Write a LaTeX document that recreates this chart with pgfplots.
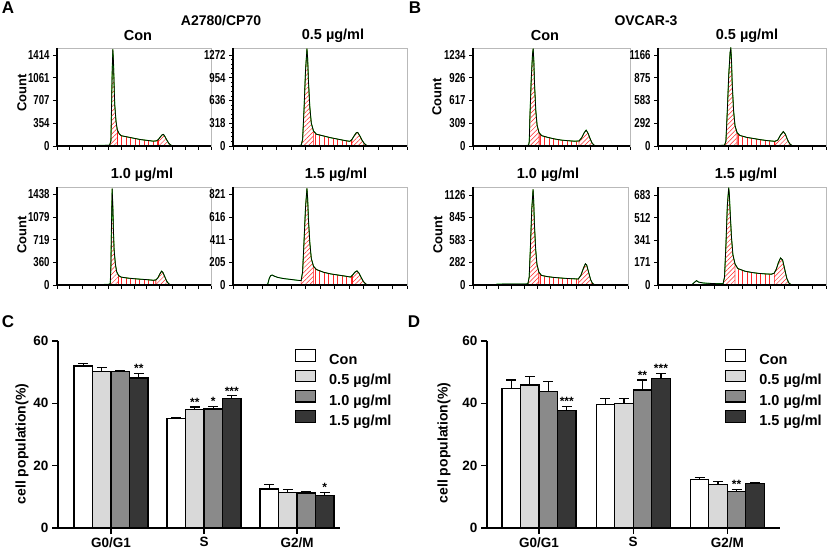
\documentclass[border=0pt]{standalone}
\usepackage{fontspec}
\setmainfont{Liberation Sans}
\newfontfamily\narrowfont[FakeStretch=0.74]{Liberation Sans}
\usepackage{pgfplots}
\pgfplotsset{compat=1.18}
\usepackage{pgfplotstable}
\usetikzlibrary{patterns.meta}

\newcommand{\fs}[1]{\bfseries\fontsize{#1}{#1}\selectfont}

\definecolor{g05}{gray}{0.85}
\definecolor{g10}{gray}{0.54}
\definecolor{g15}{gray}{0.21}

\pgfplotsset{
  histo/.style={scale only axis, anchor=south west, height=98pt,
    xmin=0, xmax=240, ymin=0, xtick={0,20,...,240}, xticklabels={},
    minor y tick num=4, tick pos=left, tick align=outside,
    major tick length=4pt, minor tick length=2pt,
    tick style={black, line width=0.8pt},
    axis line style={gray!55, line width=0.9pt},
    scaled y ticks=false,
    yticklabel style={font=\narrowfont\fs{13}, /pgf/number format/1000 sep={},
      /pgf/number format/assume math mode=true},
    clip mode=individual},
  g1fill/.style={draw=red, line width=0.4pt,
    pattern={Lines[angle=45,distance=3.2pt,line width=0.5pt]}, pattern color=red!85},
  sfill/.style={draw=red, line width=0.4pt,
    pattern={Lines[angle=90,distance=4.5pt,line width=0.5pt]}, pattern color=red!85},
  barax/.style={scale only axis, anchor=south west, height=187pt,
    ymin=0, ymax=60, ytick={0,20,40,60},
    xtick={0,1,2}, xticklabels={G0/G1,S,G2/M},
    axis lines=left, axis line style={-, line width=1.3pt},
    tick align=outside, major tick length=6pt, tick style={black, line width=1.3pt},
    ybar=0pt, bar width=18.5pt,
    xticklabel style={font=\fs{13.5}},
    yticklabel style={font=\fs{13.5}, /pgf/number format/assume math mode=true},
    every axis plot/.append style={draw=black, line width=1.2pt,
      error bars/y dir=plus, error bars/y explicit,
      error bars/error mark=|,
      error bars/error bar style={line width=1.2pt, black},
      error bars/error mark options={black, line width=1.2pt, mark size=5pt}},
    legend style={draw=none, fill=none, anchor=north west, font=\fs{14.5},
      row sep=2pt, nodes={inner sep=0pt, text height=10.5pt, text depth=3pt},
      /tikz/every odd column/.append style={column sep=13pt}},
    legend cell align=left, clip=false},
}
\tikzset{sig/.style={font=\fs{12}, anchor=south, inner sep=0pt}}

% one histogram panel: x, y, width, ymax, tick options, table, G1 / S / G2 ranges
\newcommand{\hist}[9]{%
  \begin{axis}[histo, at={(#1pt,#2pt)}, width=#3pt, ymax=#4, #5]
    \addplot[g1fill, restrict x to domain=#7] table {#6} \closedcycle;
    \addplot[sfill, restrict x to domain=#8] table {#6} \closedcycle;
    \addplot[g1fill, restrict x to domain=#9] table {#6} \closedcycle;
    \addplot[green!80!black, line width=0.9pt] table {#6};
    \addplot[black, line width=0.7pt] table {#6};
    \draw[black, line width=1.4pt] (rel axis cs:0,1) -- (rel axis cs:0,0) -- (rel axis cs:1,0);
  \end{axis}}

\pgfplotstableread[row sep=\\]{x y\\0 0\\40 0\\48 5\\60 8\\75 10\\82 12\\84 80\\85 600\\86 1150\\87 1500\\88 1320\\89 950\\90 640\\92 380\\94 250\\97 190\\100 160\\110 140\\120 120\\130 100\\140 88\\150 75\\155 80\\158 100\\161 140\\164 175\\166 180\\168 150\\171 95\\174 45\\177 15\\180 4\\184 0\\240 0\\}\dAcon
\pgfplotstableread[row sep=\\]{x y\\0 0\\70 0\\79 4\\90 6\\94 10\\96 90\\98 520\\100 1050\\102 1360\\103 1220\\104 920\\106 540\\108 320\\111 210\\115 165\\125 140\\135 115\\145 95\\155 75\\161 65\\164 90\\167 140\\170 185\\172 190\\175 140\\178 80\\181 35\\184 10\\187 0\\240 0\\}\dAfive
\pgfplotstableread[row sep=\\]{x y\\0 0\\35 0\\39 4\\55 6\\70 8\\80 10\\83 20\\84 300\\85 1000\\86 1530\\87 1250\\88 850\\89 560\\91 330\\93 210\\96 150\\100 125\\110 110\\120 100\\130 92\\140 85\\150 75\\154 80\\157 110\\160 170\\163 220\\165 200\\168 130\\171 60\\174 20\\177 5\\180 0\\240 0\\}\dAten
\pgfplotstableread[row sep=\\]{x y\\0 0\\46 0\\48 10\\50 60\\52 85\\54 90\\57 80\\62 68\\70 58\\80 50\\90 42\\94 40\\96 120\\98 400\\100 700\\102 875\\103 780\\104 600\\106 380\\108 240\\111 170\\115 140\\125 115\\135 100\\145 90\\155 80\\162 72\\165 90\\168 115\\171 128\\174 105\\177 65\\180 30\\183 10\\186 0\\240 0\\}\dAfif
\pgfplotstableread[row sep=\\]{x y\\0 0\\60 0\\66 5\\80 6\\85 10\\86 60\\87 400\\89 900\\91 1250\\92 1320\\93 1150\\94 850\\96 480\\98 280\\101 180\\105 140\\115 115\\125 95\\135 80\\145 72\\155 65\\162 68\\166 110\\170 180\\173 215\\176 170\\179 100\\182 40\\185 12\\188 0\\240 0\\}\dBcon
\pgfplotstableread[row sep=\\]{x y\\0 0\\60 0\\70 4\\85 6\\95 10\\97 60\\99 450\\101 900\\103 1200\\104 1250\\105 1100\\106 800\\108 450\\110 260\\113 170\\117 135\\127 110\\137 95\\147 80\\157 68\\167 60\\171 75\\175 140\\179 185\\182 150\\185 80\\188 30\\191 8\\194 0\\240 0\\}\dBfive
\pgfplotstableread[row sep=\\]{x y\\0 0\\34 0\\37 10\\50 12\\65 12\\80 12\\85 15\\87 100\\89 500\\91 950\\93 1197\\94 1050\\95 780\\97 450\\99 260\\102 160\\106 120\\115 105\\125 95\\135 88\\145 82\\155 78\\163 75\\167 120\\171 210\\174 265\\176 250\\179 160\\182 70\\185 20\\188 5\\191 0\\240 0\\}\dBten
\pgfplotstableread[row sep=\\]{x y\\0 0\\48 0\\52 20\\55 33\\58 22\\65 15\\75 12\\85 10\\93 10\\95 60\\97 300\\99 600\\101 739\\102 680\\103 560\\105 360\\107 230\\110 160\\114 125\\124 105\\134 95\\144 88\\154 84\\162 82\\166 90\\169 120\\172 170\\175 205\\178 190\\181 120\\184 50\\187 15\\190 3\\193 0\\240 0\\}\dBfif

\pgfplotstableread{
g con cone a ae b be c ce
0 52.0 0.8 50.2 1.4 50.2 0.4 48.1 1.6
1 35.2 0.3 38.1 0.7 38.2 0.8 41.5 0.9
2 12.5 1.4 11.4 0.9 11.2 0.4 10.5 1.0
}\barC
\pgfplotstableread{
g con cone a ae b be c ce
0 44.8 2.7 45.9 2.7 43.8 3.2 37.6 1.4
1 39.7 1.9 40.0 1.6 44.3 3.2 48.0 1.6
2 15.5 0.7 13.9 1.0 11.7 0.6 14.4 0.2
}\barD

\begin{document}
\begin{tikzpicture}[x=1pt,y=1pt]
\useasboundingbox (0,0) rectangle (827,549);

% panel letters and titles
\node[font=\fs{17}] at (8,541) {A};
\node[font=\fs{17}] at (415,541) {B};
\node[font=\fs{17}] at (8,227) {C};
\node[font=\fs{17}] at (414,227) {D};
\node[font=\fs{14}] at (221,528) {A2780/CP70};
\node[font=\fs{14}] at (646,528) {OVCAR-3};
\begin{scope}[every node/.style={font=\fs{14.5}}]
\node at (138,513) {Con};
\node at (333,513) {0.5 µg/ml};
\node at (142,374) {1.0 µg/ml};
\node at (336,374) {1.5 µg/ml};
\node at (545,513) {Con};
\node at (747,513) {0.5 µg/ml};
\node at (548,374) {1.0 µg/ml};
\node at (746,374) {1.5 µg/ml};
\end{scope}
\begin{scope}[every node/.style={font=\fs{13}, rotate=90}]
\node at (22,456) {Count};
\node at (22,314) {Count};
\node at (437,452) {Count};
\node at (438,314) {Count};
\end{scope}

% flow cytometry histograms
\hist{57}{403}{154}{1523}{ytick={0,354,707,1061,1414}}{\dAcon}{82:94}{94:158}{158:240}
\hist{233}{403}{174}{1370}{ytick={0,318,636,954,1272}}{\dAfive}{94:111}{111:164}{164:240}
\hist{57}{264}{154}{1555}{ytick={0,360,719,1079,1438}}{\dAten}{83:96}{96:154}{154:240}
\hist{233}{264}{174}{887}{ytick={0,205,411,616,821}}{\dAfif}{94:111}{111:165}{165:240}
\hist{473}{403}{157}{1329}{ytick={0,309,617,926,1234}}{\dBcon}{85:101}{101:162}{162:240}
\hist{658}{403}{168}{1256}{ytick={0,292,583,875,1166}}{\dBfive}{95:113}{113:167}{167:240}
\hist{473}{264}{155}{1226}{ytick={0,282,563,845,1126},yticklabels={0,282,583,845,1126}}{\dBten}{85:102}{102:163}{163:240}
\hist{658}{264}{168}{744}{ytick={0,171,341,512,683}}{\dBfif}{93:110}{110:166}{166:240}

% bar charts
\node[font=\fs{14}, rotate=90] at (22,105) {cell population(\%)};
\node[font=\fs{14}, rotate=90] at (444,106) {cell population(\%)};

\begin{axis}[barax, at={(58pt,21pt)}, width=282pt, xmin=-0.57, xmax=2.462,
  legend style={at={(0.829,0.968)}},
  legend image code/.code={\draw[#1, line width=1.2pt] (0pt,-0.5pt) rectangle (20pt,11pt);}]
  \addplot[fill=white] table[x=g, y=con, y error=cone] {\barC};
  \addplot[fill=g05] table[x=g, y=a, y error=ae] {\barC};
  \addplot[fill=g10] table[x=g, y=b, y error=be] {\barC};
  \addplot[fill=g15] table[x=g, y=c, y error=ce] {\barC};
  \legend{Con, 0.5 µg/ml, 1.0 µg/ml, 1.5 µg/ml}
  \node[sig] at ([xshift=27.75pt]axis cs:0,49.9) {**};
  \node[sig] at ([xshift=-9.25pt]axis cs:1,39.0) {**};
  \node[sig] at ([xshift=9.25pt]axis cs:1,39.2) {*};
  \node[sig] at ([xshift=27.75pt]axis cs:1,42.6) {***};
  \node[sig] at ([xshift=27.75pt]axis cs:2,11.7) {*};
\end{axis}

\begin{axis}[barax, at={(487pt,21pt)}, width=293pt, xmin=-0.553, xmax=2.56,
  legend style={at={(0.802,0.968)}},
  legend image code/.code={\draw[#1, line width=1.2pt] (0pt,-0.5pt) rectangle (20pt,11pt);}]
  \addplot[fill=white] table[x=g, y=con, y error=cone] {\barD};
  \addplot[fill=g05] table[x=g, y=a, y error=ae] {\barD};
  \addplot[fill=g10] table[x=g, y=b, y error=be] {\barD};
  \addplot[fill=g15] table[x=g, y=c, y error=ce] {\barD};
  \legend{Con, 0.5 µg/ml, 1.0 µg/ml, 1.5 µg/ml}
  \node[sig] at ([xshift=27.75pt]axis cs:0,39.2) {***};
  \node[sig] at ([xshift=9.25pt]axis cs:1,47.7) {**};
  \node[sig] at ([xshift=27.75pt]axis cs:1,49.8) {***};
  \node[sig] at ([xshift=9.25pt]axis cs:2,12.5) {**};
\end{axis}
\end{tikzpicture}
\end{document}
